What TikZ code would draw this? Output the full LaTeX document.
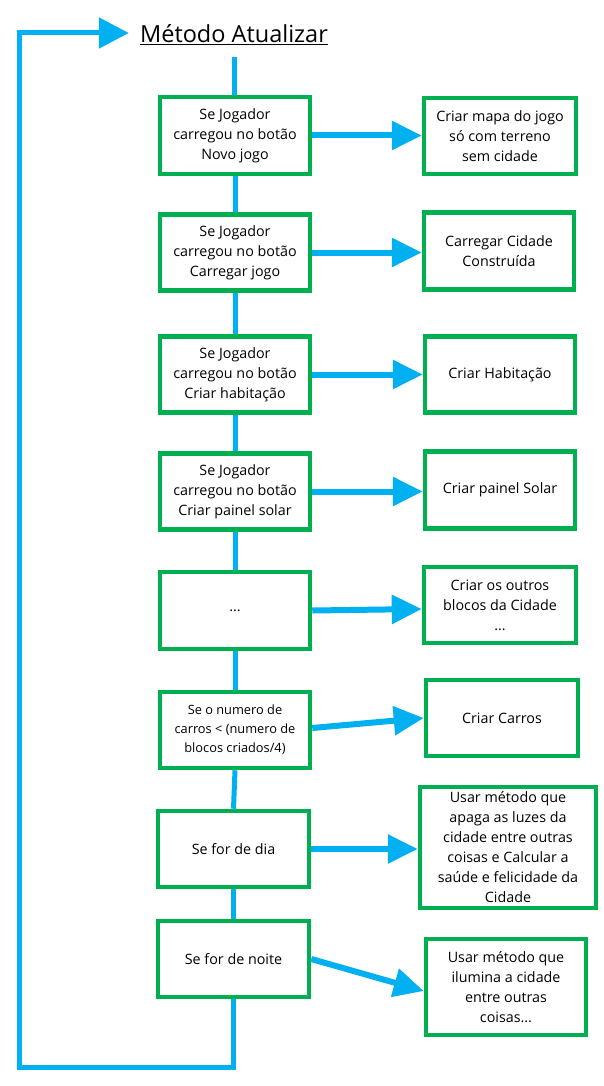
\documentclass[tikz,border=0pt]{standalone}
\usepackage{fontspec}
\setmainfont{Open Sans}
\usetikzlibrary{arrows.meta}
\definecolor{boxgreen}{RGB}{0,176,80}
\definecolor{linkblue}{RGB}{0,176,240}
\begin{document}
\begin{tikzpicture}[x=1pt,y=-1pt,
  box/.style={draw=boxgreen, line width=4.5pt, fill=white, align=center,
    minimum width=150pt, minimum height=76pt, inner sep=2pt,
    font=\fontsize{14.3}{20}\selectfont},
  link/.style={draw=linkblue, line width=5pt},
  arr/.style={draw=linkblue, line width=6pt, -{Triangle[length=30pt,width=28pt]}},
]
\useasboundingbox (0,0) rectangle (604,1086);

% title
\node[anchor=base, text height=20pt, text depth=0pt, inner xsep=11pt, inner ysep=14pt,
  font=\fontsize{23.5}{28}\selectfont] (title) at (234,43) {\underline{Método Atualizar}};

% left column
\node[box, minimum height=77pt] (l1) at (235,135.5) {Se Jogador\\carregou no botão\\Novo jogo};
\node[box] (l2) at (235,252.5) {Se Jogador\\carregou no botão\\Carregar jogo};
\node[box] (l3) at (235,374.5) {Se Jogador\\carregou no botão\\Criar habitação};
\node[box] (l4) at (235,491.5) {Se Jogador\\carregou no botão\\Criar painel solar};
\node[box, minimum height=77pt] (l5) at (235,610.5) {...};
\node[box, font=\fontsize{12.8}{19}\selectfont] (l6) at (235,730) {Se o numero de\\carros < (numero de\\blocos criados/4)};
\node[box, minimum width=151pt] (l7) at (233.5,849) {Se for de dia};
\node[box, minimum width=151pt] (l8) at (233.5,959) {Se for de noite};

% right column
\node[box, minimum width=152pt] (r1) at (500,136) {Criar mapa do jogo\\só com terreno\\sem cidade};
\node[box, minimum height=77pt] (r2) at (499,251) {Carregar Cidade\\Construída};
\node[box] (r3) at (500,374.5) {Criar Habitação};
\node[box, minimum height=77pt] (r4) at (500,490) {Criar painel Solar};
\node[box, minimum width=152pt] (r5) at (500,605) {Criar os outros\\blocos da Cidade\\...};
\node[box, minimum width=152pt] (r6) at (502,718) {Criar Carros};
\node[box, minimum width=176pt, minimum height=121pt, inner sep=0pt] (r7) at (508,847.5) {Usar método que\\apaga as luzes da\\cidade entre outras\\coisas e Calcular a\\saúde e felicidade da\\Cidade};
\node[box, minimum width=160pt, minimum height=96pt] (r8) at (506,987) {Usar método que\\ilumina a cidade\\entre outras\\coisas...};

% vertical spine
\draw[link] (title.south) -- (title.south |- l1.north);
\draw[link] (l1.south) -- (l2.north);
\draw[link] (l2.south) -- (l3.north);
\draw[link] (l3.south) -- (l4.north);
\draw[link] (l4.south) -- (l5.north);
\draw[link] (l5.south) -- (l6.north);
\draw[link] (l6.south) -- (l7.north);
\draw[link] (l7.south) -- (l8.north);

% horizontal arrows
\draw[arr] (l1.east) -- (l1.east -| r1.west);
\draw[arr] (l2.east) -- (l2.east -| r2.west);
\draw[arr] (l3.east) -- (l3.east -| r3.west);
\draw[arr] (l4.east) -- (l4.east -| r4.west);
\draw[arr] (l5.east) -- ([yshift=-4pt]r5.west);
\draw[arr] ([yshift=2pt]l6.east) -- (r6.west);
\draw[arr] (l7.east) -- (l7.east -| r7.west);
\draw[arr] (l8.east) -- ([yshift=-4pt]r8.west);

% loop back
\coordinate (c1) at (233.5,1067);
\coordinate (c2) at (19.5,1067);
\coordinate (c3) at (19.5,33);
\draw[link, -{Triangle[length=30pt,width=30pt]}] (l8.south) -- (c1) -- (c2) -- (c3) -- (title.west);
\end{tikzpicture}
\end{document}
